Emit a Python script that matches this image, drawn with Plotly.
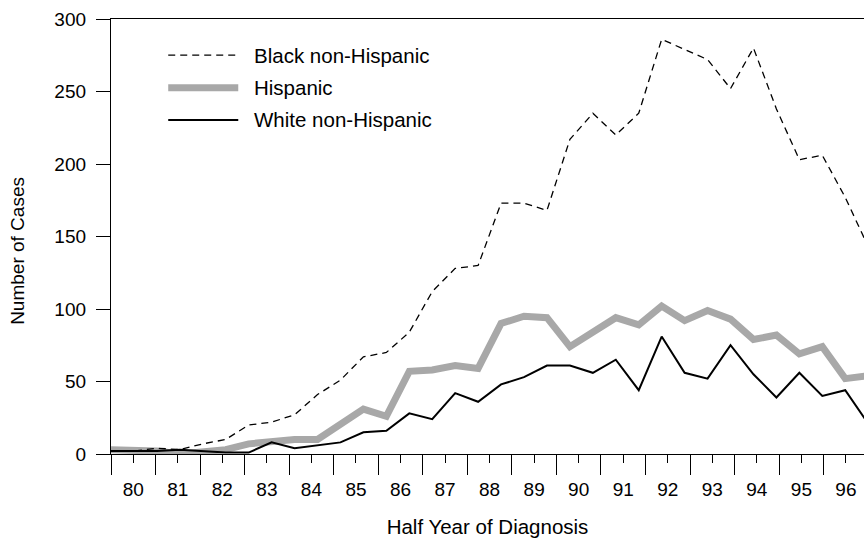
import plotly.graph_objects as go

# Reported cases per half year of diagnosis, first half of 1980 through second half of 1996
black = [2, 2, 4, 3, 7, 10, 20, 22, 27, 41, 51, 67, 70, 84, 112, 128, 130,
         173, 173, 168, 217, 235, 220, 235, 286, 279, 272, 252, 280, 238, 203, 206, 177, 143]
hispanic = [3, 3, 2, 0, 1, 3, 7, 9, 10, 10, 21, 31, 26, 57, 58, 61, 59,
            90, 95, 94, 74, 84, 94, 89, 102, 92, 99, 93, 79, 82, 69, 74, 52, 54]
white = [2, 2, 2, 3, 2, 1, 1, 8, 4, 6, 8, 15, 16, 28, 24, 42, 36,
         48, 53, 61, 61, 56, 65, 44, 81, 56, 52, 75, 55, 39, 56, 40, 44, 21]

year_labels = ["80", "81", "82", "83", "84", "85", "86", "87", "88",
               "89", "90", "91", "92", "93", "94", "95", "96"]
y_ticks = [0, 50, 100, 150, 200, 250, 300]

series_names = ["Black non-Hispanic", "Hispanic", "White non-Hispanic"]

FONT = "Liberation Sans, Arial, Helvetica, sans-serif"
TEXT_SIZE = 20.5

# the half-year values are spread evenly from the start of 1980 to the start of 1997
years = [int(s) for s in year_labels]
n = len(black)
x_pos = [years[0] + i * (years[-1] + 1 - years[0]) / (n - 1) for i in range(n)]

styles = {
    "Black non-Hispanic": dict(color="black", width=1.3, dash="7px,5px"),
    "Hispanic": dict(color="#a8a8a8", width=7),
    "White non-Hispanic": dict(color="black", width=2),
}
values = {"Black non-Hispanic": black, "Hispanic": hispanic, "White non-Hispanic": white}

fig = go.Figure()
for name in ["Hispanic", "Black non-Hispanic", "White non-Hispanic"]:
    fig.add_trace(go.Scatter(x=x_pos, y=values[name], mode="lines", name=name,
                             line=styles[name], showlegend=False, hoverinfo="skip"))

# in-plot key: sample line followed by its label
key_x0, key_x1, key_text_x = 0.076, 0.169, 0.187
key_rows = [0.917, 0.842, 0.768]
for name, ky in zip(series_names, key_rows):
    st = styles[name]
    fig.add_shape(type="line", xref="paper", yref="paper", x0=key_x0, x1=key_x1, y0=ky, y1=ky,
                  line=dict(color=st["color"], width=st["width"], dash=st.get("dash", "solid")))
    fig.add_annotation(xref="paper", yref="paper", x=key_text_x, y=ky, text=name, showarrow=False,
                       xanchor="left", yanchor="middle",
                       font=dict(family=FONT, size=TEXT_SIZE, color="black"))

# vertical axis title
fig.add_annotation(xref="paper", yref="paper", x=-0.1235, y=0.467, text="Number of Cases",
                   textangle=-90, showarrow=False, xanchor="center", yanchor="middle",
                   font=dict(family=FONT, size=19, color="black"))

fig.update_layout(
    width=864, height=538,
    margin=dict(l=111, r=0, t=19, b=84),
    paper_bgcolor="white", plot_bgcolor="white",
    font=dict(family=FONT, size=19, color="black"),
    xaxis=dict(
        range=[years[0], 96.906],
        tickvals=[y + 0.5 for y in years], ticktext=year_labels,
        ticks="outside", ticklen=8, tickwidth=1.3, tickcolor="black",
        minor=dict(tickvals=years + [years[-1] + 1], ticks="outside", ticklen=20,
                   tickwidth=1.3, tickcolor="black", showgrid=False),
        ticklabelstandoff=10,
        showline=True, linecolor="black", linewidth=1.3, mirror=True,
        showgrid=False, zeroline=False,
        tickfont=dict(family=FONT, size=19, color="black"),
        title=dict(text="Half Year of Diagnosis",
                   font=dict(family=FONT, size=TEXT_SIZE, color="black"), standoff=20),
    ),
    yaxis=dict(
        range=[0, 300], tickvals=y_ticks,
        ticks="outside", ticklen=14, tickwidth=1.3, tickcolor="black",
        showline=True, linecolor="black", linewidth=1.3,
        showgrid=False, zeroline=False, ticklabelstandoff=6,
        tickfont=dict(family=FONT, size=19, color="black"),
    ),
)

fig.write_html("out.html")
